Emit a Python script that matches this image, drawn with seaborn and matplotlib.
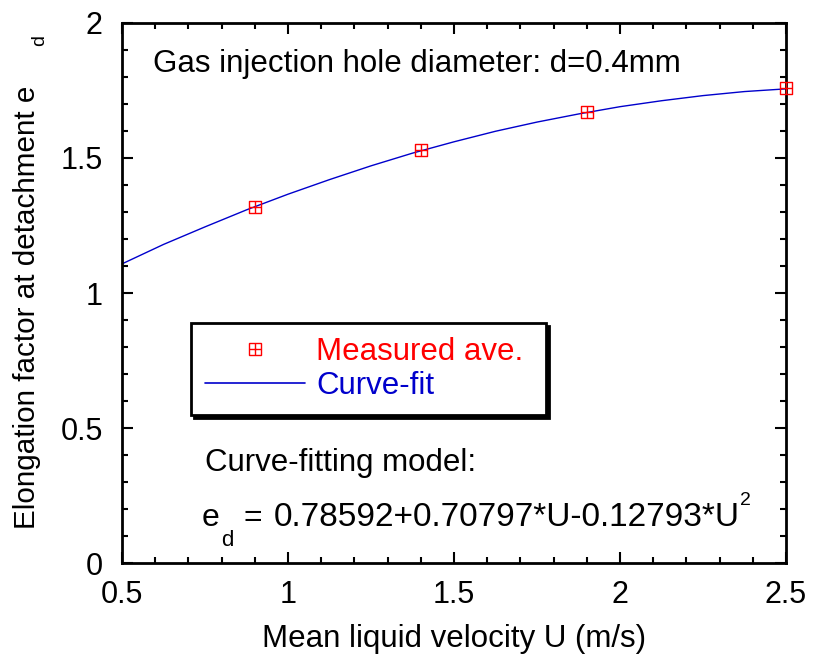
import numpy as np
import pandas as pd
import seaborn as sns
import matplotlib
matplotlib.use("Agg")
import matplotlib.pyplot as plt
from matplotlib.ticker import MultipleLocator
from matplotlib.lines import Line2D

# Data
meas_u = [0.9, 1.4, 1.9, 2.5]
meas_ed = [1.32, 1.53, 1.67, 1.76]
fit_u = [0.5, 0.625, 0.75, 0.875, 1.0, 1.125, 1.25, 1.375, 1.5, 1.625, 1.75, 1.875, 2.0, 2.125, 2.25, 2.375, 2.5]
fit_ed = [1.108, 1.180, 1.245, 1.308, 1.366, 1.420, 1.471, 1.518, 1.560, 1.599, 1.633, 1.663, 1.690, 1.712, 1.731, 1.746, 1.756]
x_ticks = [0.5, 1, 1.5, 2, 2.5]
x_ticklabels = ["0.5", "1", "1.5", "2", "2.5"]
y_ticks = [0, 0.5, 1, 1.5, 2]
y_ticklabels = ["0", "0.5", "1", "1.5", "2"]

sns.set_theme(style="white")
plt.rcParams['font.family'] = ['Liberation Sans', 'DejaVu Sans']

W, H = 814, 662
fig = plt.figure(figsize=(W / 100, H / 100), dpi=100)
ax = fig.add_axes([0.150, 0.1495, 0.8156, 0.8158])

df_fit = pd.DataFrame({"U": fit_u, "ed": fit_ed})
df_meas = pd.DataFrame({"U": meas_u, "ed": meas_ed})

sns.lineplot(data=df_fit, x="U", y="ed", ax=ax, color="#0000cc", linewidth=1.0, clip_on=False)
sns.scatterplot(data=df_meas, x="U", y="ed", ax=ax, marker="s", s=75, facecolor="none",
                edgecolor="red", linewidth=1.0, clip_on=False, zorder=5)
sns.scatterplot(data=df_meas, x="U", y="ed", ax=ax, marker="+", s=75, color="red",
                linewidth=1.0, clip_on=False, zorder=6)

ax.set_xlim(0.5, 2.5)
ax.set_ylim(0, 2)
ax.xaxis.set_minor_locator(MultipleLocator(0.1))
ax.yaxis.set_minor_locator(MultipleLocator(0.1))
ax.set_xticks(x_ticks)
ax.set_xticklabels(x_ticklabels)
ax.set_yticks(y_ticks)
ax.set_yticklabels(y_ticklabels)
ax.tick_params(which="both", direction="in", top=True, right=True, bottom=True, left=True,
               color="black", width=1.5, labelsize=22, labelcolor="black")
ax.tick_params(which="major", length=8)
ax.tick_params(axis="x", which="major", pad=12)
ax.tick_params(axis="y", which="major", pad=14)
ax.tick_params(which="minor", length=4)
for sp in ax.spines.values():
    sp.set_color("black")
    sp.set_linewidth(2)

ax.set_xlabel("Mean liquid velocity U (m/s)", fontsize=22.5, color="black", labelpad=10)
ax.set_ylabel("Elongation factor at detachment e", fontsize=21.3, color="black")
ax.yaxis.set_label_coords(41 / W, 1 - 307 / H, transform=fig.transFigure)
fig.text(40 / W, 1 - 40 / H, "d", rotation=90, fontsize=14, ha="center", va="center", color="black")

fig.text(153 / W, 1 - 64 / H, "Gas injection hole diameter: d=0.4mm",
         fontsize=22.5, ha="left", va="center", color="black")
fig.text(205 / W, 1 - 463 / H, "Curve-fitting model:",
         fontsize=22.5, ha="left", va="center", color="black")

# Equation built from pieces (subscript d and superscript 2)
eq_y = 1 - 518 / H
t_e = fig.text(202 / W, eq_y, "e", fontsize=23, ha="left", va="center", color="black")
fig.text(244 / W, eq_y, "=", fontsize=23, ha="left", va="center", color="black")
t_main = fig.text(274 / W, eq_y, "0.78592+0.70797*U-0.12793*U", fontsize=24,
                  ha="left", va="center", color="black")
fig.canvas.draw()
r = fig.canvas.get_renderer()
be = t_e.get_window_extent(r)
bm = t_main.get_window_extent(r)
fig.text((be.x1 + 1) / W, (be.y0 - 8) / H, "d", fontsize=16, ha="left", va="center", color="black")
fig.text((bm.x1 + 5) / W, (bm.y1 + 2) / H, "2", fontsize=14, ha="center", va="center", color="black")

h_meas = (Line2D([], [], marker="s", markersize=8, markerfacecolor="none", markeredgecolor="red",
                 linestyle="none", markeredgewidth=1.0),
          Line2D([], [], marker="+", markersize=8, color="red", linestyle="none", markeredgewidth=1.0))
h_fit = Line2D([], [], color="#0000cc", linewidth=1.2)
leg = ax.legend([h_meas, h_fit], ["Measured ave. ", "Curve-fit"], loc="upper left",
                bbox_to_anchor=(191 / W, 1 - 323 / H), bbox_transform=fig.transFigure,
                fontsize=22.5, frameon=True, fancybox=False, shadow={"color": "black", "alpha": 1.0},
                handlelength=3.2, handletextpad=0.35, borderpad=0.45, labelspacing=0.12,
                borderaxespad=0)
leg.get_frame().set_edgecolor("black")
leg.get_frame().set_linewidth(2)
leg.get_texts()[0].set_color("red")
leg.get_texts()[1].set_color("#0000cc")

fig.savefig("out.png", dpi=100)
